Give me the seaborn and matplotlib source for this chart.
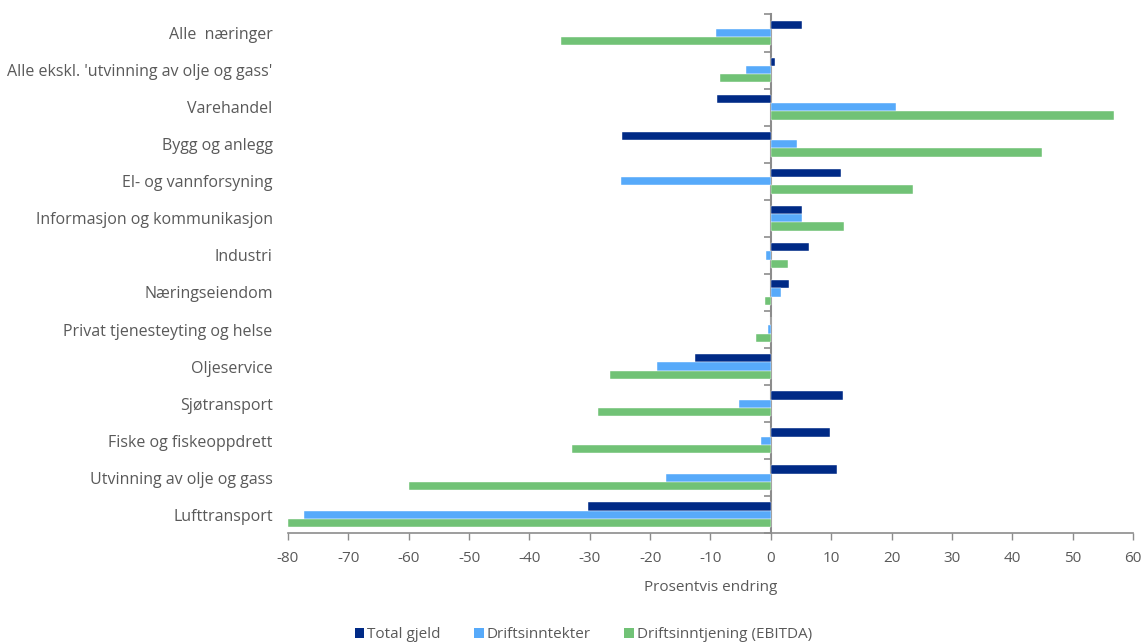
import matplotlib
matplotlib.use("Agg")
import matplotlib.pyplot as plt
import seaborn as sns
import pandas as pd
import numpy as np
from matplotlib.patches import Patch

sns.set_theme(style="white")
plt.rcParams["font.family"] = ["Open Sans", "DejaVu Sans"]

categories = [
    "Alle  næringer",
    "Alle ekskl. 'utvinning av olje og gass'",
    "Varehandel",
    "Bygg og anlegg",
    "El- og vannforsyning",
    "Informasjon og kommunikasjon",
    "Industri",
    "Næringseiendom",
    "Privat tjenesteyting og helse",
    "Oljeservice",
    "Sjøtransport",
    "Fiske og fiskeoppdrett",
    "Utvinning av olje og gass",
    "Lufttransport",
]
series = ["Total gjeld", "Driftsinntekter", "Driftsinntjening (EBITDA)"]

total_gjeld = [5.1, 0.7, -8.9, -24.7, 11.7, 5.2, 6.3, 3.0, 0.0, -12.5, 12.0, 9.8, 10.9, -30.3]
driftsinntekter = [-9.1, -4.1, 20.8, 4.3, -24.9, 5.2, -0.8, 1.7, -0.4, -18.8, -5.3, -1.7, -17.4, -77.4]
ebitda = [-34.8, -8.5, 56.8, 45.0, 23.6, 12.1, 2.9, -1.0, -2.4, -26.7, -28.7, -33.0, -60.0, -80.0]

x_ticks = list(range(-80, 61, 10))
x_label = "Prosentvis endring"

colors = ["#002A86", "#57AAFA", "#71C276"]
text_color = "#595959"
axis_color = "#8C8C8C"

df = pd.DataFrame({
    "kategori": categories * 3,
    "serie": np.repeat(series, len(categories)),
    "endring": total_gjeld + driftsinntekter + ebitda,
})

fig = plt.figure(figsize=(11.44, 6.43), dpi=100)
ax = fig.add_axes([0.2517, 0.1705, 0.7387, 0.807])

sns.barplot(
    data=df, y="kategori", x="endring", hue="serie", order=categories,
    hue_order=series, palette=colors, orient="h", width=0.67,
    errorbar=None, saturation=1, ax=ax, legend=False,
    edgecolor="white", linewidth=0.3,
)

ax.set_xlim(-80, 60)
ax.set_ylim(len(categories) - 0.5, -0.5)
ax.set_xticks(x_ticks)
ax.set_xticklabels([str(v) for v in x_ticks], fontsize=11, color=text_color)
ax.tick_params(axis="x", direction="out", length=5, width=1, color=axis_color, pad=8, bottom=True)
ax.tick_params(axis="y", length=0, pad=11, labelsize=11.5, labelcolor=text_color)
ax.set_ylabel("")
ax.set_xlabel(x_label, fontsize=11, color=text_color, labelpad=10)

for side in ["left", "right", "top"]:
    ax.spines[side].set_visible(False)
ax.spines["bottom"].set_color(axis_color)
ax.spines["bottom"].set_linewidth(1.2)

# vertical zero axis with category separator ticks pointing left
zero_frac = (0 - (-80)) / (60 - (-80))
zax = ax.secondary_yaxis(zero_frac)
zax.set_alignment("left")
zax.set_yticks(np.arange(-0.5, len(categories), 1.0))
zax.set_yticklabels([])
zax.tick_params(axis="y", direction="out", length=5, width=1.2, color=axis_color)
for sp in zax.spines.values():
    sp.set_color(axis_color)
    sp.set_linewidth(1.5)

handles = [Patch(facecolor=c, edgecolor="none") for c in colors]
fig.legend(
    handles, series, loc="lower center", bbox_to_anchor=(0.51, -0.02), ncol=3,
    frameon=False, fontsize=11, labelcolor=text_color, handlelength=0.6,
    handleheight=0.6, handletextpad=0.2, columnspacing=2.2,
)

fig.savefig("out.png", dpi=100)
